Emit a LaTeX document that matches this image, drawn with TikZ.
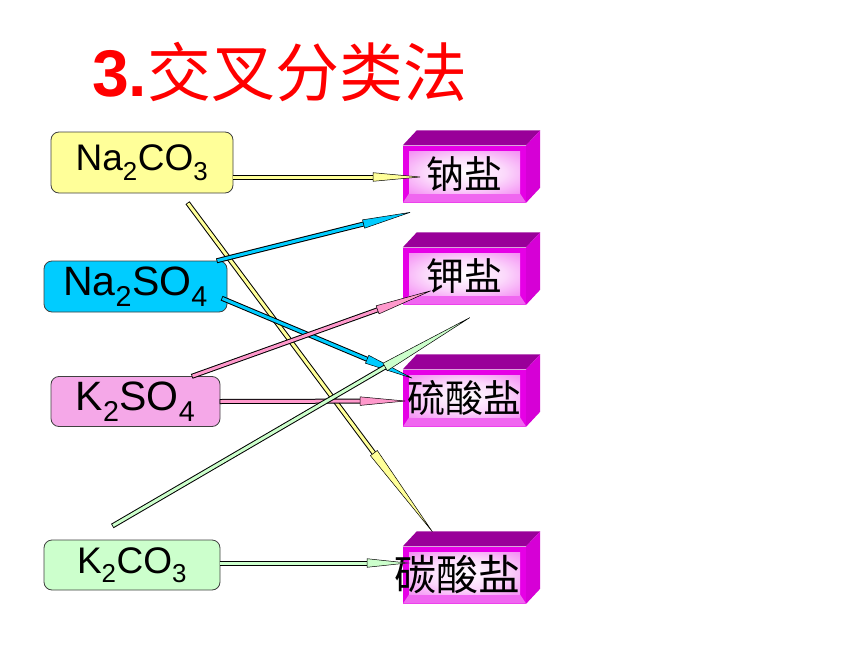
\documentclass[tikz,border=0pt]{standalone}
\usepackage{fontspec}
\setmainfont{Liberation Sans}
\newfontfamily\cjk{Noto Sans CJK SC}
\usetikzlibrary{arrows.meta, calc}

\definecolor{saltyellow}{RGB}{255,255,153}
\definecolor{saltblue}{RGB}{0,204,255}
\definecolor{saltpink}{RGB}{245,168,232}
\definecolor{saltgreen}{RGB}{204,255,204}
\definecolor{linkpink}{RGB}{255,153,204}
\definecolor{cubefront}{RGB}{230,0,230}
\definecolor{cubetop}{RGB}{153,0,153}
\definecolor{cubeside}{RGB}{214,0,214}
\pgfdeclareradialshading{cubeglow}{\pgfpoint{0bp}{0bp}}{color(0bp)=(white); color(18bp)=(white!85!cubefront); color(36bp)=(white!55!cubefront); color(50bp)=(white!35!cubefront)}

\tikzset{
  salt/.style={draw=black!75, line width=0.8pt, rounded corners=8pt, fill=#1, inner sep=0pt},
  cube/.style={fill=cubefront, inner sep=0pt, minimum width=123pt, minimum height=57pt,
    font=\cjk\fontsize{38}{40}\selectfont,
    path picture={
      \fill[cubefront!60!white] (path picture bounding box.south west) -- ([xshift=6pt,yshift=9pt]path picture bounding box.south west)
        -- ([xshift=-6pt,yshift=9pt]path picture bounding box.south east) -- (path picture bounding box.south east) -- cycle;
      \shade[shading=cubeglow] ([xshift=6pt,yshift=-6pt]path picture bounding box.north west) rectangle ([xshift=-6pt,yshift=9pt]path picture bounding box.south east);}},
  link/.style 2 args={draw=#1, line width=3pt,
    preaction={draw=black, line width=5pt, -, shorten <=-0.8pt, shorten >=#2-6pt},
    -{Triangle[length=#2, width=9pt, line width'=0.5pt, color=black, fill=#1]}},
}

\begin{document}
\begin{tikzpicture}[x=1pt, y=-1pt]
  \useasboundingbox (0,0) rectangle (860,645);
  \fill[white] (0,0) rectangle (860,645);
  \node[anchor=west, inner sep=0pt, text=red] (title) at (92,72)
    {\fontsize{66}{70}\selectfont\bfseries 3.\cjk\mdseries\fontsize{64}{70}\selectfont 交叉分类法};

  % salts
  \node[salt=saltyellow, minimum width=182pt, minimum height=61pt, font=\fontsize{37}{40}\selectfont] (na2co3) at (142,162.5) {Na\textsubscript{2}CO\textsubscript{3}};
  \node[salt=saltblue, minimum width=183pt, minimum height=51pt, font=\fontsize{41}{44}\selectfont] (na2so4) at (135.5,286.5) {Na\textsubscript{2}SO\textsubscript{4}};
  \node[salt=saltpink, minimum width=169pt, minimum height=50pt, font=\fontsize{41}{44}\selectfont] (k2so4) at (135.5,401.5) {K\textsubscript{2}SO\textsubscript{4}};
  \node[salt=saltgreen, minimum width=176pt, minimum height=50pt, font=\fontsize{37}{40}\selectfont] (k2co3) at (132,565) {K\textsubscript{2}CO\textsubscript{3}};

  % classes
  \node[cube] (nayan) at (464.5,174) {钠盐};
  \node[cube] (kyan) at (464.5,276) {钾盐};
  \node[cube] (liuyan) at (464.5,398) {硫酸盐};
  \node[cube, font=\cjk\fontsize{42}{44}\selectfont] (tanyan) at (464.5,575) {\hspace*{-14pt}碳酸盐};
  \foreach \cub in {nayan, kyan, liuyan, tanyan} {
    \fill[cubetop] (\cub.north west) -- ++(14,-15) -- ([shift={(14,-15)}]\cub.north east) -- (\cub.north east) -- cycle;
    \fill[cubeside] (\cub.north east) -- ++(14,-15) -- ([shift={(14,-15)}]\cub.south east) -- (\cub.south east) -- cycle;
  }

  % links
  \draw[link={saltyellow}{50pt}] ([yshift=-14.5pt]na2co3.east) -- ([xshift=20pt,yshift=-3pt]nayan.west);
  \coordinate (na2co3-tail) at ([xshift=46pt,yshift=-10pt]na2co3.south);
  \draw[link={saltyellow}{104pt}] (na2co3-tail) -- ([xshift=33pt,yshift=10pt]tanyan.north west);
  \draw[link={saltblue}{51pt}] ([xshift=-10pt]na2so4.north east) -- ([xshift=10pt,yshift=-9pt]nayan.south west);
  \draw[link={saltblue}{52pt}] ([xshift=-5pt,yshift=-12pt]na2so4.east) -- ([xshift=12pt,yshift=-10pt]liuyan.north west);
  \draw[link={linkpink}{60pt}] ([xshift=57pt]k2so4.north) -- ([xshift=31pt,yshift=15pt]kyan.south west);
  \draw[link={linkpink}{48pt}] (k2so4.east) -- ([xshift=5pt,yshift=-3pt]liuyan.west);
  \coordinate (k2co3-tail) at ([xshift=-19pt,yshift=14pt]k2co3.north);
  \draw[link={saltgreen}{104pt}] (k2co3-tail) -- ([xshift=72pt,yshift=-10pt]kyan.south west);
  \draw[link={saltgreen}{43pt}] ([yshift=2pt]k2co3.east) -- ([xshift=7pt,yshift=12pt]tanyan.west);
\end{tikzpicture}
\end{document}
